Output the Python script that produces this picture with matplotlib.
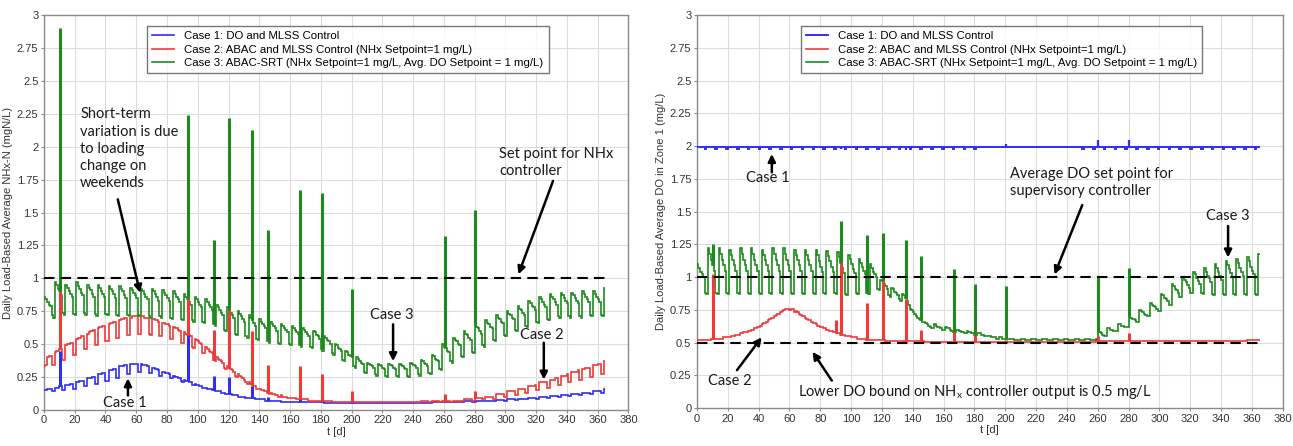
import numpy as np
import matplotlib
matplotlib.use("Agg")
import matplotlib.pyplot as plt
from matplotlib.ticker import MultipleLocator, FuncFormatter

# ---------------- data (daily values, day 0..364, one week per line) ----------------
nhx_case1 = [
    0.15,0.15,0.16,0.16,0.16,0.14,0.14,
    0.17,0.17,0.17,0.18,0.18,0.15,0.15,
    0.19,0.19,0.19,0.20,0.20,0.16,0.16,
    0.21,0.21,0.22,0.22,0.22,0.18,0.18,
    0.24,0.24,0.24,0.25,0.25,0.20,0.20,
    0.27,0.27,0.27,0.28,0.28,0.22,0.22,
    0.30,0.30,0.30,0.31,0.31,0.24,0.24,
    0.33,0.33,0.33,0.34,0.34,0.27,0.27,
    0.35,0.35,0.35,0.35,0.35,0.29,0.29,
    0.35,0.34,0.34,0.34,0.33,0.28,0.28,
    0.32,0.32,0.31,0.31,0.30,0.26,0.26,
    0.29,0.29,0.28,0.28,0.27,0.24,0.24,
    0.26,0.25,0.25,0.24,0.24,0.22,0.21,
    0.23,0.22,0.22,0.21,0.21,0.19,0.19,
    0.20,0.19,0.19,0.18,0.18,0.17,0.17,
    0.17,0.16,0.16,0.16,0.15,0.15,0.14,
    0.14,0.14,0.14,0.13,0.13,0.13,0.12,
    0.12,0.12,0.12,0.11,0.11,0.11,0.11,
    0.10,0.10,0.10,0.10,0.10,0.09,0.09,
    0.09,0.09,0.09,0.09,0.08,0.08,0.08,
    0.08,0.08,0.08,0.08,0.07,0.07,0.07,
    0.07,0.07,0.07,0.07,0.07,0.07,0.07,
    0.06,0.06,0.06,0.06,0.06,0.06,0.06,
    0.06,0.06,0.06,0.06,0.06,0.06,0.06,
    0.06,0.06,0.06,0.06,0.06,0.06,0.06,
    0.06,0.06,0.06,0.06,0.06,0.06,0.06,
    0.055,0.055,0.055,0.055,0.055,0.055,0.055,
    0.055,0.055,0.055,0.055,0.055,0.055,0.055,
    0.055,0.055,0.055,0.055,0.055,0.055,0.055,
    0.055,0.055,0.055,0.055,0.055,0.055,0.055,
    0.055,0.055,0.055,0.055,0.055,0.055,0.055,
    0.055,0.055,0.055,0.055,0.055,0.055,0.055,
    0.055,0.055,0.055,0.055,0.055,0.055,0.055,
    0.055,0.055,0.055,0.055,0.055,0.055,0.055,
    0.055,0.055,0.055,0.055,0.055,0.055,0.055,
    0.055,0.055,0.055,0.055,0.055,0.055,0.055,
    0.06,0.06,0.06,0.06,0.06,0.06,0.06,
    0.06,0.06,0.06,0.06,0.06,0.06,0.06,
    0.06,0.06,0.06,0.06,0.06,0.06,0.06,
    0.065,0.065,0.065,0.065,0.065,0.06,0.06,
    0.07,0.07,0.07,0.07,0.07,0.065,0.065,
    0.07,0.07,0.07,0.07,0.07,0.07,0.07,
    0.075,0.075,0.075,0.075,0.075,0.07,0.07,
    0.08,0.08,0.08,0.08,0.08,0.075,0.075,
    0.085,0.085,0.085,0.085,0.085,0.08,0.08,
    0.09,0.09,0.09,0.09,0.09,0.085,0.085,
    0.10,0.10,0.10,0.10,0.10,0.09,0.09,
    0.105,0.105,0.105,0.105,0.105,0.10,0.10,
    0.11,0.11,0.11,0.11,0.11,0.105,0.105,
    0.12,0.12,0.12,0.12,0.12,0.11,0.11,
    0.13,0.13,0.13,0.13,0.13,0.12,0.12,
    0.14,0.14,0.14,0.14,0.14,0.13,0.13,
    0.16,
]
nhx_case2 = [
    0.33,0.34,0.40,0.41,0.41,0.34,0.34, 0.44,0.45,0.45,0.46,0.46,0.38,0.38,
    0.49,0.50,0.50,0.51,0.51,0.42,0.42, 0.54,0.55,0.55,0.56,0.56,0.46,0.46,
    0.58,0.59,0.60,0.60,0.61,0.49,0.49, 0.62,0.63,0.63,0.64,0.64,0.52,0.52,
    0.65,0.66,0.66,0.67,0.67,0.55,0.55, 0.68,0.69,0.69,0.70,0.70,0.57,0.57,
    0.70,0.71,0.71,0.71,0.71,0.58,0.58, 0.71,0.71,0.70,0.70,0.70,0.58,0.57,
    0.69,0.69,0.68,0.68,0.67,0.56,0.56, 0.66,0.66,0.65,0.65,0.64,0.54,0.54,
    0.63,0.62,0.62,0.61,0.60,0.51,0.51, 0.59,0.58,0.57,0.57,0.56,0.48,0.47,
    0.54,0.53,0.52,0.51,0.50,0.43,0.43, 0.48,0.46,0.45,0.44,0.43,0.38,0.37,
    0.40,0.39,0.38,0.37,0.36,0.32,0.31, 0.33,0.32,0.31,0.30,0.29,0.26,0.25,
    0.27,0.26,0.25,0.24,0.23,0.21,0.20, 0.21,0.20,0.19,0.18,0.18,0.16,0.16,
    0.16,0.15,0.15,0.14,0.14,0.13,0.12, 0.13,0.12,0.12,0.11,0.11,0.10,0.10,
    0.11,0.10,0.10,0.10,0.09,0.09,0.09, 0.09,0.09,0.09,0.08,0.08,0.08,0.08,
    0.08,0.08,0.08,0.08,0.07,0.07,0.07, 0.07,0.07,0.07,0.07,0.07,0.07,0.07,
    0.065,0.065,0.065,0.065,0.065,0.06,0.06, 0.06,0.06,0.06,0.06,0.06,0.06,0.06,
    0.06,0.06,0.06,0.06,0.06,0.06,0.06, 0.06,0.06,0.06,0.06,0.06,0.06,0.06,
    0.06,0.06,0.06,0.06,0.06,0.06,0.06, 0.06,0.06,0.06,0.06,0.06,0.06,0.06,
    0.06,0.06,0.06,0.06,0.06,0.06,0.06, 0.06,0.06,0.06,0.06,0.06,0.06,0.06,
    0.06,0.06,0.06,0.06,0.06,0.06,0.06, 0.065,0.065,0.065,0.065,0.065,0.06,0.06,
    0.065,0.065,0.065,0.065,0.065,0.06,0.06, 0.07,0.07,0.07,0.07,0.07,0.06,0.06,
    0.07,0.07,0.07,0.07,0.07,0.065,0.065, 0.08,0.08,0.08,0.08,0.08,0.07,0.07,
    0.09,0.09,0.09,0.09,0.09,0.08,0.08, 0.10,0.10,0.10,0.10,0.10,0.08,0.08,
    0.12,0.12,0.12,0.12,0.12,0.10,0.10, 0.14,0.14,0.14,0.14,0.14,0.11,0.11,
    0.16,0.16,0.16,0.16,0.16,0.13,0.13, 0.18,0.18,0.18,0.18,0.19,0.15,0.15,
    0.21,0.21,0.21,0.21,0.21,0.17,0.17, 0.23,0.23,0.23,0.24,0.24,0.19,0.19,
    0.26,0.26,0.26,0.26,0.27,0.21,0.21, 0.29,0.29,0.29,0.29,0.30,0.23,0.23,
    0.31,0.31,0.32,0.32,0.32,0.25,0.25, 0.34,0.34,0.34,0.35,0.35,0.27,0.27,
    0.37,
]
nhx_case3 = [
    0.86,0.84,0.82,0.80,0.79,0.72,0.70, 0.97,0.95,0.92,0.90,0.87,0.74,0.72,
    0.95,0.93,0.90,0.88,0.86,0.73,0.72, 0.97,0.94,0.92,0.89,0.87,0.74,0.72,
    0.95,0.93,0.91,0.88,0.86,0.73,0.71, 0.95,0.93,0.90,0.88,0.86,0.73,0.72,
    0.94,0.92,0.90,0.88,0.85,0.72,0.71, 0.94,0.92,0.90,0.87,0.85,0.72,0.71,
    0.93,0.91,0.89,0.87,0.85,0.72,0.71, 0.92,0.90,0.88,0.86,0.84,0.71,0.70,
    0.92,0.90,0.88,0.86,0.83,0.71,0.70, 0.91,0.89,0.87,0.85,0.83,0.70,0.69,
    0.90,0.88,0.86,0.84,0.82,0.69,0.68, 0.88,0.86,0.84,0.82,0.80,0.68,0.67,
    0.86,0.84,0.82,0.80,0.78,0.67,0.66, 0.84,0.82,0.80,0.78,0.76,0.65,0.64,
    0.80,0.78,0.76,0.74,0.72,0.61,0.60, 0.78,0.76,0.74,0.72,0.70,0.58,0.57,
    0.75,0.73,0.71,0.69,0.67,0.56,0.55, 0.72,0.70,0.68,0.66,0.64,0.54,0.53,
    0.69,0.67,0.65,0.64,0.62,0.52,0.51, 0.67,0.65,0.64,0.62,0.60,0.51,0.50,
    0.65,0.64,0.62,0.61,0.59,0.50,0.49, 0.64,0.62,0.61,0.59,0.58,0.49,0.48,
    0.62,0.61,0.59,0.58,0.56,0.48,0.47, 0.60,0.59,0.57,0.56,0.54,0.46,0.45,
    0.56,0.55,0.53,0.52,0.50,0.43,0.42, 0.50,0.49,0.47,0.46,0.45,0.38,0.37,
    0.45,0.44,0.42,0.41,0.40,0.33,0.32, 0.40,0.39,0.37,0.36,0.35,0.29,0.28,
    0.36,0.35,0.34,0.33,0.32,0.27,0.26, 0.35,0.34,0.33,0.32,0.31,0.26,0.25,
    0.35,0.34,0.33,0.32,0.31,0.26,0.25, 0.35,0.34,0.33,0.32,0.31,0.26,0.25,
    0.36,0.35,0.34,0.33,0.32,0.27,0.26, 0.38,0.37,0.36,0.35,0.33,0.28,0.27,
    0.42,0.41,0.39,0.38,0.37,0.31,0.30, 0.50,0.48,0.47,0.45,0.44,0.37,0.36,
    0.55,0.53,0.52,0.50,0.49,0.41,0.40, 0.60,0.58,0.57,0.55,0.53,0.44,0.43,
    0.65,0.63,0.62,0.60,0.58,0.49,0.48, 0.68,0.66,0.65,0.63,0.62,0.53,0.52,
    0.72,0.70,0.69,0.67,0.66,0.57,0.56, 0.75,0.73,0.72,0.70,0.69,0.61,0.60,
    0.79,0.77,0.76,0.74,0.72,0.64,0.63, 0.83,0.81,0.79,0.78,0.76,0.67,0.66,
    0.86,0.84,0.82,0.80,0.78,0.69,0.68, 0.88,0.86,0.84,0.82,0.80,0.71,0.70,
    0.89,0.87,0.85,0.83,0.81,0.71,0.70, 0.89,0.87,0.85,0.83,0.81,0.71,0.70,
    0.90,0.88,0.86,0.84,0.82,0.72,0.71, 0.90,0.88,0.86,0.84,0.82,0.72,0.71,
    0.93,
]
do_case1 = [
    1.99,1.99,1.99,1.99,1.99,1.98,1.99,
    1.99,1.99,1.99,1.99,1.99,1.98,1.99,
    1.99,1.99,1.99,1.99,1.99,1.98,1.99,
    1.99,1.99,1.99,1.99,1.99,1.98,1.99,
    1.99,1.99,1.99,1.99,1.99,1.98,1.99,
    1.99,1.99,1.99,1.99,1.99,1.98,1.99,
    1.99,1.99,1.99,1.99,1.99,1.98,1.99,
    1.99,1.99,1.99,1.99,1.99,1.98,1.99,
    1.99,1.99,1.99,1.99,1.99,1.98,1.99,
    1.99,1.99,1.99,1.99,1.99,1.98,1.99,
    1.99,1.99,1.99,1.99,1.99,1.98,1.99,
    1.99,1.99,1.99,1.99,1.99,1.98,1.99,
    1.99,1.99,1.99,1.99,1.99,1.98,1.99,
    1.99,1.99,1.99,1.99,1.99,1.98,1.99,
    1.99,1.99,1.99,1.99,1.99,1.98,1.99,
    1.99,1.99,1.99,1.99,1.99,1.98,1.99,
    1.99,1.99,1.99,1.99,1.99,1.98,1.99,
    1.99,1.99,1.99,1.99,1.99,1.98,1.99,
    1.99,1.99,1.99,1.99,1.99,1.98,1.99,
    1.99,1.99,1.99,1.99,1.99,1.98,1.99,
    1.99,1.99,1.99,1.99,1.99,1.98,1.99,
    1.99,1.99,1.99,1.99,1.99,1.98,1.99,
    1.99,1.99,1.99,1.99,1.99,1.98,1.99,
    1.99,1.99,1.99,1.99,1.99,1.98,1.99,
    1.99,1.99,1.99,1.99,1.99,1.98,1.99,
    1.99,1.99,1.99,1.99,1.99,1.98,1.99,
    1.99,1.99,1.99,1.99,1.99,1.99,1.99,
    1.99,1.99,1.99,1.99,1.99,1.99,1.99,
    1.99,1.99,1.99,1.99,1.99,1.99,1.99,
    1.99,1.99,1.99,1.99,1.99,1.99,1.99,
    1.99,1.99,1.99,1.99,1.99,1.99,1.99,
    1.99,1.99,1.99,1.99,1.99,1.99,1.99,
    1.99,1.99,1.99,1.99,1.99,1.99,1.99,
    1.99,1.99,1.99,1.99,1.99,1.99,1.99,
    1.99,1.99,1.99,1.99,1.99,1.99,1.99,
    1.99,1.99,1.99,1.99,1.99,1.98,1.99,
    1.99,1.99,1.99,1.99,1.99,1.98,1.99,
    1.99,1.99,1.99,1.99,1.99,1.98,1.99,
    1.99,1.99,1.99,1.99,1.99,1.98,1.99,
    1.99,1.99,1.99,1.99,1.99,1.98,1.99,
    1.99,1.99,1.99,1.99,1.99,1.98,1.99,
    1.99,1.99,1.99,1.99,1.99,1.98,1.99,
    1.99,1.99,1.99,1.99,1.99,1.98,1.99,
    1.99,1.99,1.99,1.99,1.99,1.98,1.99,
    1.99,1.99,1.99,1.99,1.99,1.98,1.99,
    1.99,1.99,1.99,1.99,1.99,1.98,1.99,
    1.99,1.99,1.99,1.99,1.99,1.98,1.99,
    1.99,1.99,1.99,1.99,1.99,1.98,1.99,
    1.99,1.99,1.99,1.99,1.99,1.98,1.99,
    1.99,1.99,1.99,1.99,1.99,1.98,1.99,
    1.99,1.99,1.99,1.99,1.99,1.98,1.99,
    1.99,1.99,1.99,1.99,1.99,1.98,1.99,
    1.99,
]
do_case2 = [
    0.52,0.52,0.52,0.52,0.52,0.52,0.52,
    0.52,0.52,0.53,0.53,0.53,0.53,0.53,
    0.53,0.53,0.53,0.54,0.54,0.54,0.54,
    0.54,0.55,0.55,0.55,0.56,0.56,0.56,
    0.57,0.57,0.58,0.58,0.58,0.59,0.59,
    0.60,0.60,0.61,0.61,0.62,0.62,0.63,
    0.64,0.65,0.65,0.66,0.67,0.68,0.69,
    0.69,0.70,0.71,0.72,0.72,0.73,0.74,
    0.75,0.76,0.76,0.76,0.75,0.76,0.76,
    0.73,0.74,0.73,0.72,0.71,0.70,0.70,
    0.69,0.68,0.67,0.67,0.66,0.65,0.65,
    0.64,0.63,0.63,0.62,0.62,0.61,0.61,
    0.60,0.60,0.59,0.59,0.58,0.58,0.57,
    0.57,0.57,0.56,0.56,0.56,0.55,0.55,
    0.55,0.55,0.54,0.54,0.54,0.54,0.53,
    0.53,0.53,0.53,0.53,0.53,0.52,0.52,
    0.52,0.52,0.52,0.52,0.52,0.52,0.52,
    0.52,0.52,0.52,0.51,0.51,0.51,0.51,
    0.51,0.51,0.51,0.51,0.51,0.51,0.51,
    0.51,0.51,0.51,0.51,0.51,0.51,0.51,
    0.51,0.51,0.51,0.51,0.51,0.51,0.51,
    0.505,0.505,0.505,0.505,0.505,0.505,0.505,
    0.505,0.505,0.505,0.505,0.505,0.505,0.505,
    0.505,0.505,0.505,0.505,0.505,0.505,0.505,
    0.505,0.505,0.505,0.505,0.505,0.505,0.505,
    0.505,0.505,0.505,0.505,0.505,0.505,0.505,
    0.505,0.505,0.505,0.505,0.505,0.505,0.505,
    0.505,0.505,0.505,0.505,0.505,0.505,0.505,
    0.505,0.505,0.505,0.505,0.505,0.505,0.505,
    0.505,0.505,0.505,0.505,0.505,0.505,0.505,
    0.505,0.505,0.505,0.505,0.505,0.505,0.505,
    0.505,0.505,0.505,0.505,0.505,0.505,0.505,
    0.505,0.505,0.505,0.505,0.505,0.505,0.505,
    0.505,0.505,0.505,0.505,0.505,0.505,0.505,
    0.505,0.505,0.505,0.505,0.505,0.505,0.505,
    0.505,0.505,0.505,0.505,0.505,0.505,0.505,
    0.505,0.505,0.505,0.505,0.505,0.505,0.505,
    0.51,0.51,0.51,0.51,0.51,0.51,0.51,
    0.51,0.51,0.51,0.51,0.51,0.51,0.51,
    0.51,0.51,0.51,0.51,0.51,0.51,0.51,
    0.51,0.51,0.51,0.51,0.51,0.51,0.51,
    0.51,0.51,0.51,0.51,0.51,0.51,0.51,
    0.51,0.51,0.51,0.51,0.51,0.51,0.51,
    0.51,0.51,0.51,0.51,0.51,0.51,0.51,
    0.51,0.51,0.51,0.51,0.51,0.51,0.51,
    0.51,0.51,0.51,0.51,0.51,0.51,0.51,
    0.515,0.515,0.515,0.515,0.515,0.515,0.515,
    0.515,0.515,0.515,0.515,0.515,0.515,0.515,
    0.515,0.515,0.515,0.515,0.515,0.515,0.515,
    0.515,0.515,0.515,0.515,0.515,0.515,0.515,
    0.515,0.515,0.515,0.515,0.515,0.515,0.515,
    0.52,0.52,0.52,0.52,0.52,0.52,0.52,
    0.52,
]
do_case3 = [
    1.10,1.07,1.04,1.02,1.00,0.88,0.87, 1.22,1.18,1.13,1.09,1.05,0.88,0.87,
    1.22,1.18,1.13,1.09,1.05,0.88,0.87, 1.21,1.17,1.13,1.09,1.05,0.88,0.87,
    1.22,1.18,1.13,1.09,1.05,0.88,0.87, 1.22,1.18,1.13,1.09,1.05,0.88,0.87,
    1.21,1.17,1.13,1.09,1.05,0.88,0.87, 1.22,1.18,1.13,1.09,1.05,0.88,0.87,
    1.22,1.18,1.13,1.09,1.05,0.88,0.87, 1.21,1.17,1.13,1.09,1.05,0.88,0.87,
    1.21,1.17,1.13,1.09,1.05,0.88,0.87, 1.21,1.17,1.12,1.08,1.04,0.88,0.87,
    1.20,1.16,1.12,1.08,1.04,0.88,0.87, 1.19,1.15,1.11,1.07,1.03,0.87,0.86,
    1.17,1.14,1.10,1.06,1.03,0.88,0.87, 1.14,1.11,1.08,1.05,1.02,0.88,0.87,
    1.10,1.07,1.04,1.02,1.00,0.91,0.90, 0.98,0.97,0.95,0.93,0.91,0.86,0.85,
    0.92,0.91,0.89,0.88,0.86,0.83,0.82, 0.87,0.86,0.84,0.82,0.79,0.76,0.75,
    0.73,0.72,0.70,0.69,0.68,0.67,0.66, 0.66,0.65,0.64,0.63,0.62,0.61,0.61,
    0.64,0.63,0.62,0.62,0.61,0.60,0.60, 0.62,0.61,0.61,0.60,0.59,0.58,0.58,
    0.60,0.60,0.59,0.58,0.58,0.57,0.57, 0.59,0.58,0.58,0.57,0.57,0.56,0.56,
    0.57,0.57,0.56,0.56,0.55,0.55,0.55, 0.55,0.55,0.54,0.54,0.54,0.53,0.53,
    0.54,0.54,0.53,0.53,0.53,0.53,0.53, 0.53,0.53,0.53,0.52,0.52,0.52,0.52,
    0.53,0.53,0.53,0.52,0.52,0.52,0.52, 0.53,0.53,0.53,0.52,0.52,0.52,0.52,
    0.53,0.53,0.53,0.52,0.52,0.52,0.52, 0.53,0.53,0.53,0.52,0.52,0.52,0.52,
    0.53,0.53,0.53,0.52,0.52,0.52,0.52, 0.53,0.53,0.53,0.52,0.52,0.52,0.52,
    0.53,0.53,0.53,0.52,0.52,0.52,0.52, 0.53,0.58,0.58,0.57,0.56,0.55,0.55,
    0.61,0.61,0.60,0.60,0.59,0.59,0.59, 0.64,0.64,0.63,0.63,0.62,0.62,0.62,
    0.70,0.69,0.68,0.68,0.67,0.66,0.66, 0.75,0.74,0.73,0.72,0.71,0.70,0.70,
    0.80,0.79,0.78,0.77,0.76,0.74,0.74, 0.87,0.86,0.84,0.83,0.82,0.79,0.79,
    0.95,0.93,0.91,0.90,0.88,0.85,0.85, 1.00,0.98,0.96,0.94,0.92,0.88,0.88,
    1.04,1.02,0.99,0.97,0.95,0.88,0.87, 1.07,1.04,1.01,0.99,0.96,0.87,0.86,
    1.10,1.07,1.04,1.01,0.98,0.87,0.86, 1.12,1.09,1.06,1.03,1.00,0.87,0.86,
    1.14,1.11,1.07,1.04,1.01,0.87,0.86, 1.15,1.12,1.08,1.05,1.02,0.87,0.86,
    1.18,
]

# short upsets (single-day spikes)
spike_days = [10, 93, 110, 120, 135, 145, 166, 180, 200, 260, 280]
nhx_case1_spikes = [0.45, 0.57, 0.26, 0.25, 0.18, 0.10, 0.08, 0.07, 0.06, 0.06, 0.06]
nhx_case2_spikes = [0.90, 0.88, 0.61, 0.76, 0.60, 0.34, 0.33, 0.27, 0.14, 0.12, 0.14]
nhx_case3_spikes = [2.90, 2.24, 1.29, 2.22, 2.13, 1.37, 1.67, 1.65, 0.92, 1.32, 1.52]
do_case3_spikes = [1.25, 1.43, 1.32, 1.34, 1.28, 1.16, 1.06, 0.95, 0.93, 1.00, 1.07]
do_case2_spike_days = [10, 90, 93, 110, 120, 135, 145, 166, 180, 200, 260, 280]
do_case2_spikes = [1.02, 0.67, 1.13, 0.80, 1.03, 0.83, 0.60, 0.60, 0.58, 0.52, 0.55, 0.57]
do_case1_spike_days = [93, 135, 200, 260, 280]
do_case1_spikes = [1.975, 1.97, 2.02, 2.05, 2.05]

nhx_setpoint = 1.0
do_avg_setpoint = 1.0
do_lower_bound = 0.5
sim_days = 365

legend_labels = ["Case 1: DO and MLSS Control",
                 "Case 2: ABAC and MLSS Control (NHx Setpoint=1 mg/L)",
                 "Case 3: ABAC-SRT (NHx Setpoint=1 mg/L, Avg. DO Setpoint = 1 mg/L)"]

# ---------------- styling ----------------
C_BLUE = "#2f2ff2"
C_RED = "#f03a3a"
C_GREEN = "#1e8a1e"
TICKFONT = "Liberation Sans"
ANNFONT = "Lato"

plt.rcParams["font.family"] = [TICKFONT, "DejaVu Sans"]

fig = plt.figure(figsize=(12.93, 4.46), dpi=100)
axL = fig.add_axes([0.034, 0.081, 0.452, 0.885])
axR = fig.add_axes([0.539, 0.085, 0.453, 0.881])


def draw_series(ax, vals, color, label, lw=1.2):
    edges = np.arange(len(vals) + 1)
    ax.stairs(vals, edges, baseline=None, color=color, lw=lw, label=label, zorder=3)


def draw_spikes(ax, days, tops, series, color, lw=2.2):
    days = np.asarray(days)
    base = np.asarray(series)[days]
    ax.vlines(days + 0.5, base, tops, color=color, lw=lw, zorder=3)


def style_axes(ax, ylabel):
    ax.set_xlim(0, 380)
    ax.set_ylim(0, 3)
    ax.xaxis.set_major_locator(MultipleLocator(20))
    ax.yaxis.set_major_locator(MultipleLocator(0.25))
    ax.yaxis.set_major_formatter(FuncFormatter(lambda v, p: f"{v:g}"))
    ax.grid(True, color="#dcdcdc", lw=0.8, zorder=0)
    ax.set_axisbelow(True)
    for s in ax.spines.values():
        s.set_color("#8a8a8a")
        s.set_linewidth(1.0)
    ax.tick_params(labelsize=8, length=2, color="#8a8a8a", labelcolor="#333333", pad=2)
    ax.set_xlabel("t [d]", fontsize=8, color="#333333", labelpad=1)
    ax.set_ylabel(ylabel, fontsize=8, color="#333333", labelpad=3)
    leg = ax.legend(loc="upper center", bbox_to_anchor=(0.52, 0.987), fontsize=8.2,
                    frameon=True, fancybox=False, edgecolor="#555555",
                    handlelength=1.9, borderpad=0.45, labelspacing=0.3,
                    handletextpad=0.9)
    leg.get_frame().set_linewidth(1.0)


def arrow(ax, tail, head):
    ax.annotate("", xy=head, xytext=tail,
                arrowprops=dict(arrowstyle="-|>", color="black", lw=1.8,
                                mutation_scale=11, shrinkA=0, shrinkB=0),
                zorder=6)


# ---------------- left panel: NHx ----------------
draw_series(axL, nhx_case1, C_BLUE, legend_labels[0])
draw_series(axL, nhx_case2, C_RED, legend_labels[1])
draw_series(axL, nhx_case3, C_GREEN, legend_labels[2])
draw_spikes(axL, spike_days, nhx_case1_spikes, nhx_case1, C_BLUE)
draw_spikes(axL, spike_days, nhx_case2_spikes, nhx_case2, C_RED)
draw_spikes(axL, spike_days, nhx_case3_spikes, nhx_case3, C_GREEN)
axL.plot([0, sim_days], [nhx_setpoint, nhx_setpoint], color="black", lw=1.5,
         dashes=(5, 3), zorder=5)
style_axes(axL, "Daily Load-Based Average NHx-N (mgN/L)")

tk = dict(fontsize=10.5, family=[ANNFONT, "DejaVu Sans"], color="#1a1a1a", zorder=7)
axL.text(23.5, 2.30, "Short-term\nvariation is due\nto loading\nchange on\nweekends",
         ha="left", va="top", linespacing=1.3, **tk)
arrow(axL, (48, 1.60), (62.5, 0.89))
axL.text(296, 1.88, "Set point for NHx\ncontroller", ha="left", va="center",
         linespacing=1.3, **tk)
arrow(axL, (331, 1.74), (308.5, 1.03))
axL.text(226, 0.72, "Case 3", ha="center", va="center", **tk)
arrow(axL, (227, 0.65), (227, 0.37))
axL.text(323.5, 0.57, "Case 2", ha="center", va="center", **tk)
arrow(axL, (325, 0.51), (325, 0.23))
axL.text(52.7, 0.05, "Case 1", ha="center", va="center", **tk)
arrow(axL, (54.6, 0.11), (54.6, 0.24))

# ---------------- right panel: DO ----------------
draw_series(axR, do_case1, C_BLUE, legend_labels[0], lw=1.4)
draw_series(axR, do_case2, C_RED, legend_labels[1])
draw_series(axR, do_case3, C_GREEN, legend_labels[2])
draw_spikes(axR, do_case1_spike_days, do_case1_spikes, do_case1, C_BLUE, lw=1.6)
draw_spikes(axR, do_case2_spike_days, do_case2_spikes, do_case2, C_RED)
draw_spikes(axR, spike_days, do_case3_spikes, do_case3, C_GREEN)
for yv in (do_avg_setpoint, do_lower_bound):
    axR.plot([0, sim_days], [yv, yv], color="black", lw=1.5, dashes=(5, 3), zorder=5)
style_axes(axR, "Daily Load-Based Average DO in Zone 1 (mg/L)")

axR.text(46, 1.76, "Case 1", ha="center", va="center", **tk)
arrow(axR, (48.6, 1.80), (48.6, 1.94))
axR.text(203, 1.72, "Average DO set point for\nsupervisory controller",
         ha="left", va="center", linespacing=1.3, **tk)
arrow(axR, (250, 1.55), (232, 1.02))
axR.text(344.6, 1.47, "Case 3", ha="center", va="center", **tk)
arrow(axR, (344.6, 1.39), (344.6, 1.15))
axR.text(21.4, 0.21, "Case 2", ha="center", va="center", **tk)
arrow(axR, (26, 0.29), (42, 0.54))
axR.text(65.5, 0.12, "Lower DO bound on NH$_{\\mathregular{x}}$ controller output is 0.5 mg/L",
         ha="left", va="center", **tk)
arrow(axR, (87.5, 0.21), (75, 0.43))

fig.savefig("out.png", dpi=100)
